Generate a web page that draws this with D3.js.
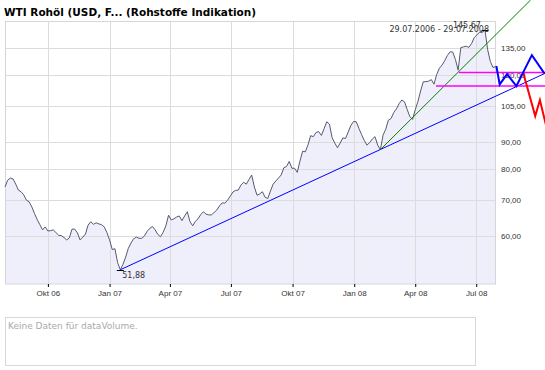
<!DOCTYPE html>
<html>
<head>
<meta charset="utf-8">
<script src="https://cdn.jsdelivr.net/npm/d3@7"></script>
<style>
  body { margin: 0; background: #fff; }
  svg { display: block; font-family: 'DejaVu Sans', Verdana, sans-serif; }
</style>
</head>
<body>
<div id="container"></div>
<script>
const title = 'WTI Rohöl (USD, F... (Rohstoffe Indikation)';
const rangeStart = '2006-07-29';
const rangeEnd = '2008-07-29';
const priceDomain = [48.8, 150.7];

// one close every 4 days from the range start
const stepDays = 4;
const prices = [
  74.1, 76.3, 77.0, 76.7, 75.0, 73.1, 72.6, 71.6, 70.0, 69.5,
  68.0, 66.1, 64.4, 63.0, 61.6, 62.4, 61.3, 61.4, 61.6, 60.9,
  60.2, 60.1, 59.6, 59.0, 59.5, 61.8, 61.8, 60.8, 59.0, 59.7,
  60.5, 62.9, 63.8, 63.1, 63.5, 63.2, 63.0, 62.4, 60.9, 59.0,
  56.6, 56.8, 53.5, 51.88, 53.1, 54.8, 56.9, 58.2, 59.3, 59.7,
  59.4, 59.4, 60.0, 61.2, 62.0, 62.5, 61.6, 60.4, 59.8, 61.0,
  62.7, 65.6, 64.3, 64.6, 65.1, 65.4, 64.1, 65.4, 66.6, 63.8,
  62.7, 63.9, 64.6, 65.8, 66.6, 65.9, 65.7, 65.7, 66.4, 67.1,
  68.3, 69.2, 69.1, 70.0, 71.2, 72.5, 73.0, 73.1, 74.7, 75.6,
  75.0, 76.5, 78.0, 74.1, 71.5, 71.9, 72.6, 70.9, 70.5, 72.8,
  75.0, 76.0, 77.0, 78.0, 80.5, 80.9, 82.7, 80.3, 80.3, 78.9,
  82.8, 86.4, 86.2, 88.8, 92.4, 92.0, 93.7, 94.0, 92.5, 95.2,
  98.1, 97.1, 91.6, 89.5, 87.7, 89.5, 91.5, 91.3, 93.8, 96.6,
  98.2, 98.1, 95.3, 92.8, 90.5, 88.7, 89.7, 91.1, 92.0, 88.7,
  87.0, 92.6, 95.0, 98.8, 99.5, 102.1, 103.7, 106.1, 107.7, 106.9,
  103.4, 100.3, 99.1, 103.3, 107.0, 112.0, 116.5, 116.6, 116.8, 117.6,
  115.3, 120.2, 123.5, 125.2, 127.6, 130.5, 132.6, 132.4, 128.2, 122.5,
  135.0, 135.4, 135.8, 135.1, 137.3, 140.9, 142.5, 144.3, 144.0, 145.67,
  133.8, 127.2, 123.9, 124.4
];

const xTickDates = ['2006-10-01', '2007-01-01', '2007-04-01', '2007-07-01',
  '2007-10-01', '2008-01-01', '2008-04-01', '2008-07-01'];
const xTickLabels = ['Okt 06', 'Jan 07', 'Apr 07', 'Jul 07', 'Okt 07', 'Jan 08', 'Apr 08', 'Jul 08'];
const yTicks = [60, 70, 80, 90, 105, 120, 135];

// drawn analysis
const supportLine = [['2007-01-17', 51.88], ['2008-10-14', 121.2]];
const steepLine = [['2008-02-09', 87.0], ['2008-09-20', 165.6]];
const upperLevel = [['2008-06-05', 121.3], ['2008-10-14', 121.3]];
const lowerLevel = [['2008-05-02', 114.4], ['2008-10-14', 114.4]];
const bluePattern = [['2008-07-31', 124.7], ['2008-08-05', 115.2], ['2008-08-16', 120.4],
  ['2008-08-30', 114.4], ['2008-09-09', 121.3], ['2008-09-22', 130.7], ['2008-10-11', 120.7]];
const redPattern = [['2008-09-09', 121.3], ['2008-09-27', 100.5], ['2008-10-04', 107.7], ['2008-10-15', 94.5]];

const volumeMessage = 'Keine Daten für dataVolume.';

const dimensions = { x: 545, y: 370 };
const plot = { left: 5, top: 22, right: 495, bottom: 284 };

const parse = d3.utcParse('%Y-%m-%d');
const de = d3.formatLocale({ decimal: ',', thousands: '.', grouping: [3], currency: ['', ' €'] });
const fmt = de.format('.2f');
const dateFmt = d3.utcFormat('%d.%m.%Y');

const series = prices.map((v, i) => ({
  date: d3.utcDay.offset(parse(rangeStart), i * stepDays),
  value: v,
}));

const x = d3.scaleUtc()
  .domain([parse(rangeStart), parse(rangeEnd)])
  .range([plot.left, plot.right]);
const y = d3.scaleLog()
  .domain(priceDomain)
  .range([plot.bottom, plot.top]);

const svg = d3.select('#container')
  .append('svg')
  .attr('width', dimensions.x)
  .attr('height', dimensions.y);

svg.append('text')
  .attr('x', 4)
  .attr('y', 16)
  .attr('font-size', 10.5)
  .attr('font-weight', 'bold')
  .attr('fill', '#000')
  .text(title);

// area under the price
const area = d3.area()
  .x((d) => x(d.date))
  .y0(plot.bottom)
  .y1((d) => y(d.value));
svg.append('path')
  .datum(series)
  .attr('d', area)
  .attr('fill', '#efeffb');

// grid
const grid = svg.append('g').attr('stroke', '#dcdcdc').attr('shape-rendering', 'crispEdges');
grid.selectAll('.vgrid')
  .data(xTickDates)
  .enter()
  .append('line')
  .attr('x1', (d) => Math.round(x(parse(d))) + 0.5)
  .attr('x2', (d) => Math.round(x(parse(d))) + 0.5)
  .attr('y1', plot.top)
  .attr('y2', plot.bottom);
grid.selectAll('.hgrid')
  .data(yTicks)
  .enter()
  .append('line')
  .attr('x1', plot.left)
  .attr('x2', plot.right)
  .attr('y1', (d) => Math.round(y(d)) + 0.5)
  .attr('y2', (d) => Math.round(y(d)) + 0.5);
svg.append('rect')
  .attr('x', plot.left + 0.5)
  .attr('y', plot.top - 0.5)
  .attr('width', plot.right - plot.left)
  .attr('height', plot.bottom - plot.top + 0.5)
  .attr('fill', 'none')
  .attr('stroke', '#d6d6d6');

// x axis
const xAxis = d3.axisBottom(x)
  .tickValues(xTickDates.map(parse))
  .tickFormat((d, i) => xTickLabels[i])
  .tickSize(3)
  .tickPadding(3);
const xg = svg.append('g')
  .attr('transform', 'translate(0,' + plot.bottom + ')')
  .call(xAxis);
xg.select('.domain').remove();
xg.selectAll('line').attr('stroke', '#000');
xg.selectAll('text').attr('font-size', 8).attr('fill', '#333').attr('font-family', null);

// y axis on the right
const yAxis = d3.axisRight(y)
  .tickValues(yTicks)
  .tickFormat(fmt)
  .tickSize(0)
  .tickPadding(6);
const yg = svg.append('g')
  .attr('transform', 'translate(' + plot.right + ',0)')
  .call(yAxis);
yg.select('.domain').remove();
yg.selectAll('text').attr('font-size', 8).attr('fill', '#333').attr('font-family', null);

// price line
const line = d3.line()
  .x((d) => x(d.date))
  .y((d) => y(d.value));
svg.append('path')
  .datum(series)
  .attr('d', line)
  .attr('fill', 'none')
  .attr('stroke', '#555a6e')
  .attr('stroke-width', 1);

// annotations
const pairLine = d3.line()
  .x((d) => x(parse(d[0])))
  .y((d) => y(d[1]));
function drawPath(data, color, width) {
  svg.append('path')
    .datum(data)
    .attr('d', pairLine)
    .attr('fill', 'none')
    .attr('stroke', color)
    .attr('stroke-width', width)
    .attr('stroke-linejoin', 'miter');
}
drawPath(supportLine, '#0000ff', 1);
drawPath(steepLine, '#008000', 1);
drawPath(upperLevel, '#ff00ff', 1.6);
drawPath(lowerLevel, '#ff00ff', 1.6);
drawPath(redPattern, '#ff0000', 2);
drawPath(bluePattern, '#0000ff', 2);

// high / low marks
const low = d3.least(series, (d) => d.value);
const high = d3.greatest(series, (d) => d.value);
[low, high].forEach((d) => {
  svg.append('line')
    .attr('x1', x(d.date) - 3.5)
    .attr('x2', x(d.date) + 3.5)
    .attr('y1', Math.round(y(d.value)) + 0.5)
    .attr('y2', Math.round(y(d.value)) + 0.5)
    .attr('stroke', '#000');
});
svg.append('text')
  .attr('x', x(low.date) + 2)
  .attr('y', y(low.value) + 8.5)
  .attr('font-size', 8)
  .attr('fill', '#333')
  .text(fmt(low.value));
svg.append('text')
  .attr('x', x(high.date) - 4)
  .attr('y', y(high.value) - 1.5)
  .attr('text-anchor', 'end')
  .attr('font-size', 8)
  .attr('fill', '#333')
  .text(fmt(high.value));

svg.append('text')
  .attr('x', plot.right - 6)
  .attr('y', plot.top + 10)
  .attr('text-anchor', 'end')
  .attr('font-size', 8)
  .attr('fill', '#333')
  .text(dateFmt(parse(rangeStart)) + ' - ' + dateFmt(parse(rangeEnd)));

// empty volume panel
svg.append('rect')
  .attr('x', 5.5)
  .attr('y', 317.5)
  .attr('width', 470)
  .attr('height', 48)
  .attr('fill', '#fff')
  .attr('stroke', '#d8d8d8');
svg.append('text')
  .attr('x', 8)
  .attr('y', 329)
  .attr('font-size', 9)
  .attr('fill', '#aaa')
  .text(volumeMessage);
</script>
</body>
</html>
